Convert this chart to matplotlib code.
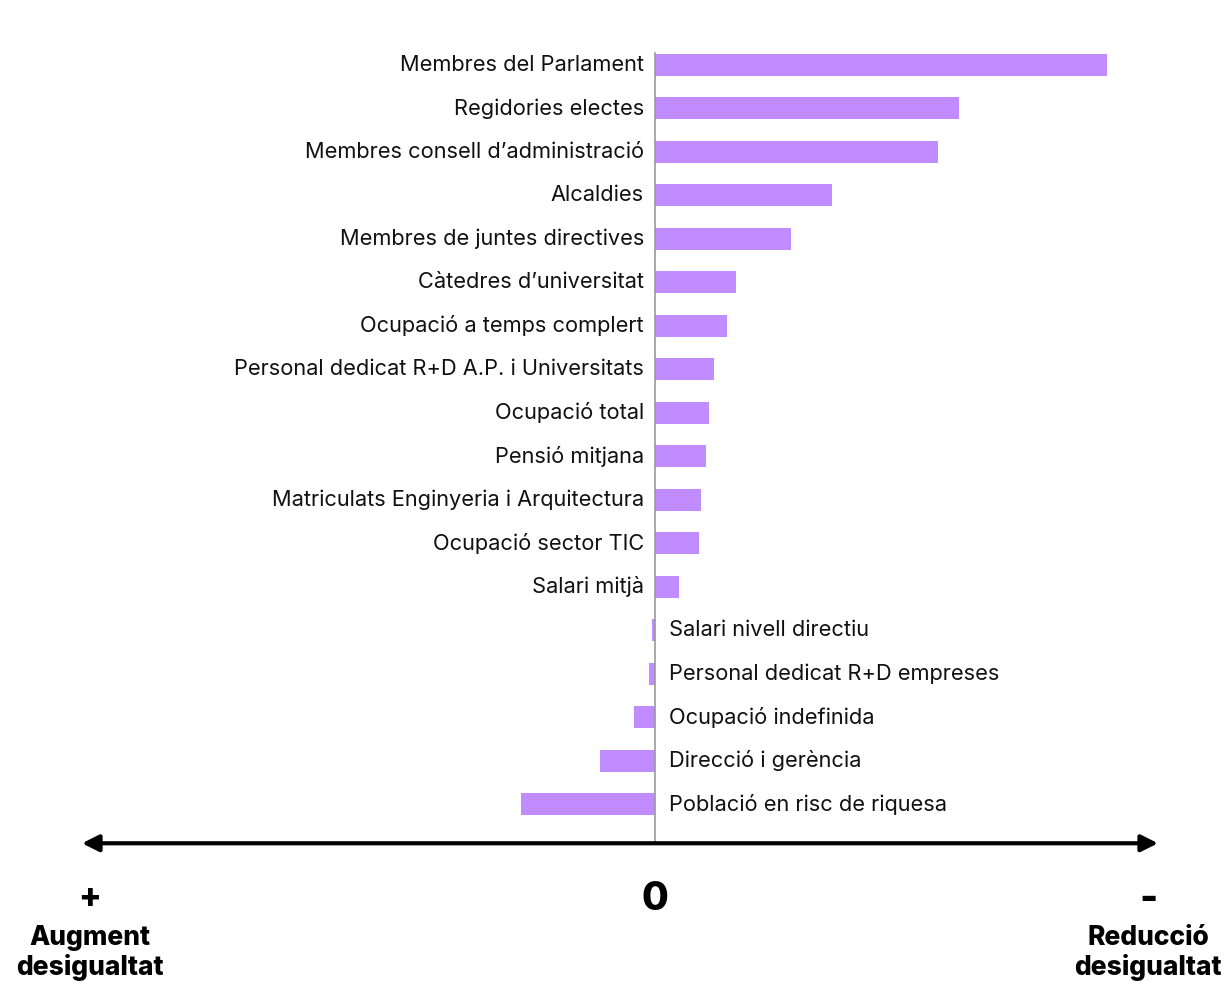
import numpy as np
import matplotlib.pyplot as plt

# categories and values (reduction of gender gap, arbitrary units)
categories = [
    "Membres del Parlament", "Regidories electes", "Membres consell d\u2019administració",
    "Alcaldies", "Membres de juntes directives", "Càtedres d\u2019universitat",
    "Ocupació a temps complert", "Personal dedicat R+D A.P. i Universitats",
    "Ocupació total", "Pensió mitjana", "Matriculats Enginyeria i Arquitectura",
    "Ocupació sector TIC", "Salari mitjà", "Salari nivell directiu",
    "Personal dedicat R+D empreses", "Ocupació indefinida", "Direcció i gerència",
    "Població en risc de riquesa",
]
values = [452, 304, 283, 177, 136, 81, 72, 59, 54, 51, 46, 44, 24, -3, -6, -21, -55, -134]

bar_color = "#C18CFF"
plt.rcParams['font.family'] = ['Inter', 'DejaVu Sans']

fig = plt.figure(figsize=(12.3, 9.82), dpi=100)
ax = fig.add_axes([0, 0, 1, 1])
ax.set_xlim(-655, 575)
ax.set_ylim(21.09, -1.49)
ax.axis('off')

y = np.arange(len(categories))
ax.barh(y, values, height=0.5, color=bar_color, zorder=2)

# zero line
ax.plot([0, 0], [-0.28, 17.9], color="#999999", lw=1.2, zorder=3)

for yi, cat, v in zip(y, categories, values):
    if v >= 0:
        ax.text(-11, yi, cat, ha='right', va='center', fontsize=15.7, color="#111111")
    else:
        ax.text(14, yi, cat, ha='left', va='center', fontsize=15.7, color="#111111")

# arrow axis
ax.annotate("", xy=(-573, 17.9), xytext=(503, 17.9),
            arrowprops=dict(arrowstyle='<|-|>', color='black', lw=3,
                            mutation_scale=25, shrinkA=0, shrinkB=0))

ax.text(-565, 19.15, "+", ha='center', va='center', fontsize=24, fontweight='heavy')
ax.text(-565, 20.42, "Augment\ndesigualtat", ha='center', va='center', fontsize=19,
        fontweight='heavy', linespacing=1.15)
ax.text(0, 19.2, "0", ha='center', va='center', fontsize=28, fontweight='heavy')
ax.text(493, 19.2, "-", ha='center', va='center', fontsize=28, fontweight='heavy')
ax.text(493, 20.42, "Reducció\ndesigualtat", ha='center', va='center', fontsize=19,
        fontweight='heavy', linespacing=1.15)

fig.savefig("out.png", dpi=100)
